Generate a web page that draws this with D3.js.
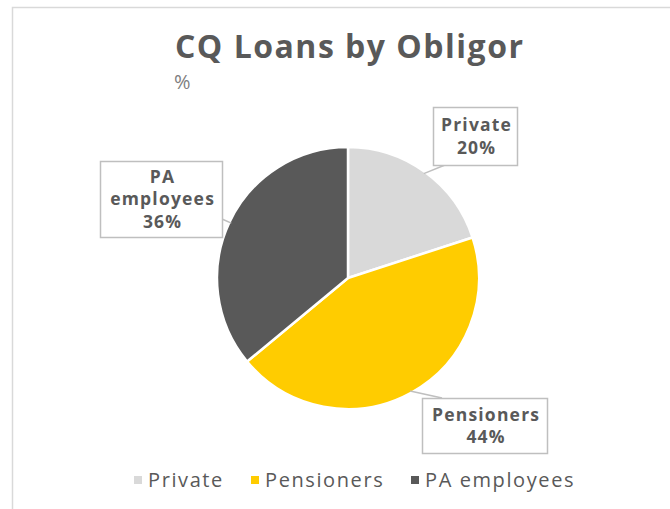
<!DOCTYPE html>
<html>
<head>
<meta charset="utf-8">
<script src="https://cdn.jsdelivr.net/npm/d3@7"></script>
<style>
  body { margin: 0; background: #fff; }
  svg { display: block; font-family: "Open Sans", sans-serif; }
</style>
</head>
<body>
<svg id="chart" width="670" height="509"></svg>
<script>
// data
const categories = ["Private", "Pensioners", "PA employees"];
const shares = [20, 44, 36];
const colors = ["#d9d9d9", "#ffcc00", "#595959"];
const labelLines = [["Private", "20%"], ["Pensioners", "44%"], ["PA", "employees", "36%"]];

// layout for callout boxes (x, y, w, h)
const boxes = [
    { x: 433, y: 107, w: 84, h: 58 },
    { x: 422, y: 398, w: 125, h: 55 },
    { x: 100, y: 161, w: 122, h: 76 }
];

const svg = d3.select("#chart");
const cx = 348, cy = 278, radius = 131;

// outer frame of the chart area (only top & left visible)
svg.append("rect")
    .attr("x", 12.5).attr("y", 7.5)
    .attr("width", 700).attr("height", 600)
    .attr("fill", "none")
    .attr("stroke", "#d9d9d9")
    .attr("stroke-width", 1.5);

svg.append("text")
    .attr("x", 349 + 0.75).attr("y", 58)
    .attr("text-anchor", "middle")
    .attr("font-size", 32)
    .attr("font-weight", 700)
    .attr("letter-spacing", 1.5)
    .attr("fill", "#595959")
    .text("CQ Loans by Obligor");

svg.append("text")
    .attr("x", 174).attr("y", 89)
    .attr("font-size", 20)
    .attr("fill", "#7f7f7f")
    .text("%");

const pie = d3.pie().sort(null).value(d => d);
const arcs = pie(shares);
const arc = d3.arc().innerRadius(0).outerRadius(radius);

const g = svg.append("g").attr("transform", `translate(${cx},${cy})`);
g.selectAll("path.slice")
    .data(arcs)
    .enter().append("path")
    .attr("class", "slice")
    .attr("d", arc)
    .attr("fill", (d, i) => colors[i])
    .attr("stroke", "#fff")
    .attr("stroke-width", 2.5)
    .attr("stroke-linejoin", "round");

// callouts
arcs.forEach((d, i) => {
    const mid = (d.startAngle + d.endAngle) / 2;
    const px = cx + (radius - 2) * Math.sin(mid);
    const py = cy - (radius - 2) * Math.cos(mid);
    const b = boxes[i];

    // leader line to the box
    let lx, ly;
    if (i === 0) { lx = b.x + 12; ly = b.y + b.h; }
    else if (i === 1) { lx = b.x + 20; ly = b.y; }
    else { lx = b.x + b.w; ly = b.y + b.h - 18; }

    svg.append("line")
        .attr("x1", px).attr("y1", py)
        .attr("x2", lx).attr("y2", ly)
        .attr("stroke", "#bfbfbf")
        .attr("stroke-width", 1.5);

    svg.append("rect")
        .attr("x", b.x + 0.5).attr("y", b.y + 0.5)
        .attr("width", b.w).attr("height", b.h)
        .attr("fill", "#fff")
        .attr("stroke", "#bfbfbf")
        .attr("stroke-width", 1.5);

    const lines = labelLines[i];
    const lh = 22.5;
    const top = b.y + b.h / 2 - (lines.length - 1) * lh / 2;
    lines.forEach((t, k) => {
        svg.append("text")
            .attr("x", b.x + b.w / 2 + 1.6)
            .attr("y", top + k * lh)
            .attr("dy", "0.36em")
            .attr("text-anchor", "middle")
            .attr("font-size", 17.5)
            .attr("font-weight", 700)
            .attr("letter-spacing", 1.2)
            .attr("fill", "#595959")
            .text(t);
    });
});

// legend
const legendX = [134, 251, 411];
const legend = svg.append("g");
categories.forEach((c, i) => {
    legend.append("rect")
        .attr("x", legendX[i]).attr("y", 476)
        .attr("width", 8).attr("height", 8)
        .attr("fill", colors[i]);
    legend.append("text")
        .attr("x", legendX[i] + 14).attr("y", 480)
        .attr("dy", "0.36em")
        .attr("font-size", 20)
        .attr("letter-spacing", 1.6)
        .attr("fill", "#595959")
        .text(c);
});
</script>
</body>
</html>
